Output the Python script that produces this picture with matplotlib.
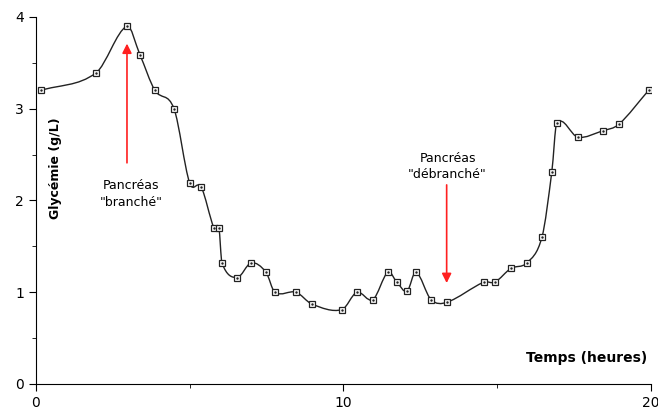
import numpy as np
import matplotlib.pyplot as plt
from matplotlib.path import Path
from matplotlib.patches import PathPatch

# temps (heures) et glycemie (g/L)
temps = [0.16, 1.95, 2.96, 3.38, 3.87, 4.49, 5.0, 5.37, 5.79, 5.95, 6.05,
         6.54, 7.0, 7.48, 7.77, 8.46, 8.98, 9.95, 10.44, 10.96, 11.45,
         11.74, 12.07, 12.36, 12.85, 13.36, 14.57, 14.93, 15.45, 15.97,
         16.46, 16.78, 16.94, 17.63, 18.44, 18.96, 19.93]
glycemie = [3.20, 3.39, 3.90, 3.59, 3.20, 3.00, 2.19, 2.15, 1.70, 1.70, 1.32,
            1.16, 1.32, 1.22, 1.00, 1.00, 0.87, 0.81, 1.00, 0.92, 1.22,
            1.11, 1.01, 1.22, 0.92, 0.89, 1.11, 1.11, 1.26, 1.32,
            1.60, 2.31, 2.84, 2.69, 2.76, 2.83, 3.20]

x = np.array(temps)
y = np.array(glycemie)

fig = plt.figure(figsize=(6.58, 4.11), dpi=100)
ax = fig.add_axes([0.0547, 0.0657, 0.9343, 0.893])

# courbe lissee : bezier avec pentes par differences finies
n = len(x)
pente = np.zeros(n)
for i in range(n):
    a = max(i - 1, 0)
    b = min(i + 1, n - 1)
    pente[i] = (y[b] - y[a]) / (x[b] - x[a])
verts = [(x[0], y[0])]
codes = [Path.MOVETO]
for i in range(n - 1):
    h = (x[i + 1] - x[i]) / 3
    verts += [(x[i] + h, y[i] + pente[i] * h),
              (x[i + 1] - h, y[i + 1] - pente[i + 1] * h),
              (x[i + 1], y[i + 1])]
    codes += [Path.CURVE4] * 3
ax.add_patch(PathPatch(Path(verts, codes), fill=False, edgecolor='#222222', lw=1.0))

ax.plot(x, y, ls='none', marker='s', ms=5, mfc='white', mec='#222222', mew=0.9)
ax.plot(x, y, ls='none', marker='.', ms=1.5, color='#222222')

ax.set_xlim(0, 20)
ax.set_ylim(0, 4)
ax.spines['top'].set_visible(False)
ax.spines['right'].set_visible(False)
ax.set_xticks([0, 10, 20])
ax.set_xticks([5, 15], minor=True)
ax.set_yticks([0, 1, 2, 3, 4])
ax.set_yticks([0.5, 1.5, 2.5, 3.5], minor=True)
ax.tick_params(which='major', length=5, labelsize=10)
ax.tick_params(which='minor', length=3)

ax.text(0.62, 2.35, 'Glycémie (g/L)', rotation=90, fontsize=9, fontweight='bold',
        ha='center', va='center')
ax.text(19.9, 0.21, 'Temps (heures)', fontsize=10, fontweight='bold',
        ha='right', va='bottom')

red = '#ff2020'
ax.annotate('', xy=(2.96, 3.74), xytext=(2.96, 2.38),
            arrowprops=dict(arrowstyle='-|>', color=red, lw=1.2, mutation_scale=14))
ax.text(3.1, 2.07, 'Pancréas\n"branché"', fontsize=9, ha='center', va='center',
        linespacing=1.35)
ax.annotate('', xy=(13.36, 1.07), xytext=(13.36, 2.2),
            arrowprops=dict(arrowstyle='-|>', color=red, lw=1.2, mutation_scale=14))
ax.text(13.39, 2.37, 'Pancréas\n"débranché"', fontsize=9, ha='center', va='center',
        linespacing=1.35)

plt.savefig('out.png')
